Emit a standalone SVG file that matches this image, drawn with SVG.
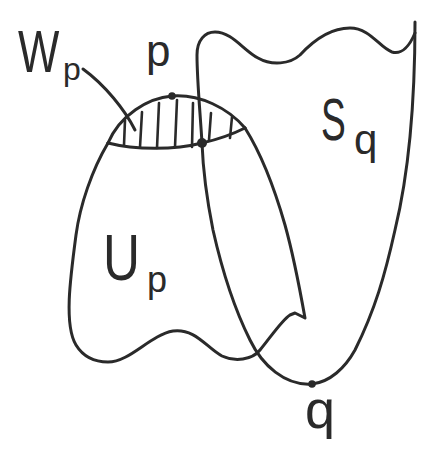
<svg xmlns="http://www.w3.org/2000/svg" width="430" height="461" viewBox="0 0 430 461">
<style>
.ln{fill:none;stroke:#2a2a2a;stroke-width:3;stroke-linecap:round;stroke-linejoin:round}
.ht{fill:none;stroke:#2a2a2a;stroke-width:2.6;stroke-linecap:round}
.dot{fill:#2a2a2a}
.t{font-family:"Liberation Sans","DejaVu Sans",sans-serif;fill:#2a2a2a}
</style>
<rect width="430" height="461" fill="#fff"/>
<g id="Up">
<path class="ln" d="M108,143 C92,170 80,205 76,235 C70,280 64,325 76,345 C84,358 96,362 108,362 C130,362 150,335 173,331 C195,328 207,348 222,356 C235,362 252,360 260,350 C270,338 282,320 290,315 L295,313 L305,318 C300,290 292,250 285,225 C275,190 262,155 245,128"/>
<text class="t" font-size="64" transform="translate(103,280) scale(0.8,1)">U</text>
<text class="t" x="147" y="292" font-size="36">p</text>
</g>
<g id="Sq">
<path class="ln" d="M202,143 C200,110 197,80 197,55 C197,40 205,32 215,32 C232,32 243,50 258,58 C272,66 290,64 300,55 C312,42 330,28 350,28 C370,28 380,48 392,52 C402,55 410,45 415,33"/>
<path class="ln" d="M415,22 C415,80 412,160 395,230 C385,275 375,310 355,350 C345,368 330,382 312,384 C285,386 262,365 250,340 C235,310 222,270 213,230 C207,200 203,170 202,143"/>
<text class="t" font-size="60" transform="translate(321,140) scale(0.62,1)">S</text>
<text class="t" x="354" y="154" font-size="42">q</text>
</g>
<g id="Wp">
<path class="ln" d="M108,143 C120,115 148,98 172,96 C200,94 228,108 245,128"/>
<path class="ln" d="M108,143 C135,150 175,150 202,143 C220,139 235,133 245,128"/>
<path class="ht" d="M125,120 L124,145 M142,112 L140,147 M159,103 L157,148 M177,100 L175,147 M193,103 L192,147 M211,113 L209,140 M232,117 L230,138"/>
<text class="t" font-size="60" transform="translate(18,72) scale(0.73,1)">W</text>
<text class="t" x="63" y="80" font-size="32">p</text>
</g>
<g id="p">
<circle class="dot" cx="172" cy="96" r="3.8"/>
<text class="t" x="146" y="66" font-size="44">p</text>
</g>
<g id="x">
<circle class="dot" cx="202" cy="143" r="5"/>
</g>
<g id="q">
<circle class="dot" cx="312" cy="384" r="3.8"/>
<text class="t" x="305" y="428" font-size="54">q</text>
</g>
<g id="connectors">
<path class="ln" d="M83,69 C105,85 125,110 135,130"/>
</g>
</svg>
